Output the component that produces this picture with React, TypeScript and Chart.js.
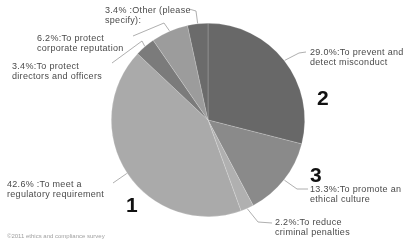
import React, { useEffect, useRef } from "react";
import { Chart, registerables } from "chart.js";

Chart.register(...registerables);

// ---- data ----
const categories = [
  "To prevent and detect misconduct",
  "To promote an ethical culture",
  "To reduce criminal penalties",
  "To meet a regulatory requirement",
  "To protect directors and officers",
  "To protect corporate reputation",
  "Other (please specify):",
];
const values = [29.0, 13.3, 2.2, 42.6, 3.4, 6.2, 3.4];
const labelLines = [
  ["29.0%:To prevent and", "detect misconduct"],
  ["13.3%:To promote an", "ethical culture"],
  ["2.2%:To reduce", "criminal penalties"],
  ["42.6% :To meet a", "regulatory requirement"],
  ["3.4%:To protect", "directors and officers"],
  ["6.2%:To protect", "corporate reputation"],
  ["3.4% :Other (please", "specify):"],
];
const markers = ["2", "3", "", "1", "", "", ""];
const footer = "©2011 ethics and compliance survey";

// ---- styles / layout ----
const colors = ["#686868", "#8a8a8a", "#b0b0b0", "#aaaaaa", "#7b7b7b", "#9c9c9c", "#6b6b6b"];
const labelPos: [number, number][] = [
  [310, 48],
  [310, 185],
  [275, 218],
  [7, 180],
  [12, 62],
  [37, 34],
  [105, 6],
];
const leaderPts: [number, number][][] = [
  [[306, 52], [299, 53]],
  [[308, 189], [297, 189]],
  [[272, 223], [258, 222]],
  [[113, 183]],
  [[112, 63], [142, 41]],
  [[133, 36], [164, 23]],
  [[189, 9], [196, 11]],
];
const markerPos: [number, number][] = [
  [317, 105],
  [310, 182],
  [0, 0],
  [126, 212],
  [0, 0],
  [0, 0],
  [0, 0],
];

const annotPlugin = {
  id: "annot",
  afterDraw(chart: any) {
    const ctx = chart.ctx as any;
    const meta = chart.getDatasetMeta(0);
    ctx.save();
    meta.data.forEach((arc: any, i: number) => {
      const { x, y, startAngle, endAngle, outerRadius } = arc.getProps(
        ["x", "y", "startAngle", "endAngle", "outerRadius"],
        true
      );
      const mid = (startAngle + endAngle) / 2;
      const ax = x + Math.cos(mid) * (outerRadius + 0.5);
      const ay = y + Math.sin(mid) * (outerRadius + 0.5);
      // leader
      ctx.strokeStyle = "#9a9a9a";
      ctx.lineWidth = 0.8;
      ctx.beginPath();
      const pts = leaderPts[i];
      ctx.moveTo(pts[0][0], pts[0][1]);
      for (let k = 1; k < pts.length; k++) ctx.lineTo(pts[k][0], pts[k][1]);
      ctx.lineTo(ax, ay);
      ctx.stroke();
      // label
      ctx.fillStyle = "#4a4a4a";
      ctx.font = "9px 'Liberation Sans', Arial, sans-serif";
      ctx.letterSpacing = "0.3px";
      ctx.textBaseline = "top";
      ctx.textAlign = "left";
      const [lx, ly] = labelPos[i];
      labelLines[i].forEach((t, k) => ctx.fillText(t, lx, ly + k * 10));
      ctx.letterSpacing = "0px";
      // marker numbers
      if (markers[i]) {
        ctx.fillStyle = "#111111";
        ctx.font = "bold 21px 'Liberation Sans', Arial, sans-serif";
        ctx.textBaseline = "alphabetic";
        ctx.fillText(markers[i], markerPos[i][0], markerPos[i][1]);
      }
    });
    ctx.fillStyle = "#a0a0a0";
    ctx.font = "6px 'Liberation Sans', Arial, sans-serif";
    ctx.textBaseline = "top";
    ctx.fillText(footer, 7, 233);
    ctx.restore();
  },
};

export default function App() {
  const ref = useRef<HTMLCanvasElement>(null);
  useEffect(() => {
    if (!ref.current) return;
    const chart = new Chart(ref.current, {
      type: "pie",
      data: {
        labels: categories,
        datasets: [
          {
            data: values,
            backgroundColor: colors,
            borderColor: "rgba(255,255,255,0.3)",
            borderWidth: 0.6,
          },
        ],
      },
      options: {
        responsive: false,
        animation: false,
        devicePixelRatio: 1,
        layout: { padding: { top: 23, bottom: 29, left: 111, right: 100 } },
        plugins: { legend: { display: false }, tooltip: { enabled: false } },
      },
      plugins: [annotPlugin],
    });
    return () => chart.destroy();
  }, []);
  return (
    <div style={{ position: "fixed", left: 0, top: 0, width: 405, height: 246, background: "#fff" }}>
      <canvas ref={ref} width={405} height={246} />
    </div>
  );
}
